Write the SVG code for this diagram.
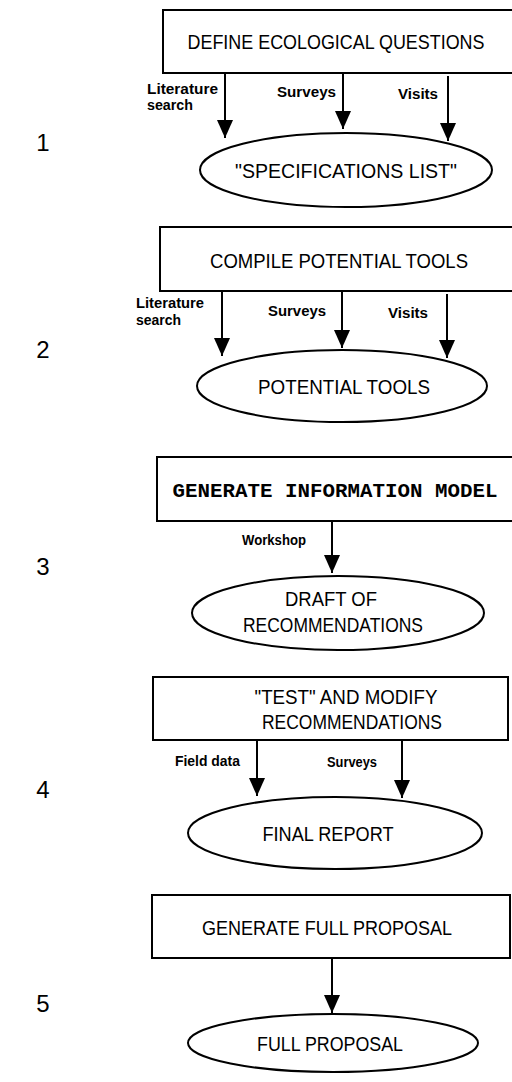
<svg xmlns="http://www.w3.org/2000/svg" width="512" height="1082" viewBox="0 0 512 1082">
<style>
.box{fill:#fff;stroke:#000;stroke-width:2}
.ell{fill:#fff;stroke:#000;stroke-width:2}
.t{font-family:"Liberation Sans",Arial,sans-serif;font-size:20px;fill:#000;text-anchor:middle}
.mono{font-family:"Liberation Mono","Courier New",monospace;font-size:20px;font-weight:bold;fill:#000;text-anchor:middle}
.lbl{font-family:"Liberation Sans",Arial,sans-serif;font-size:14px;font-weight:bold;fill:#000}
.num{font-family:"Liberation Sans",Arial,sans-serif;font-size:24px;fill:#000;text-anchor:middle}
.c{stroke:#000;stroke-width:2;fill:none;marker-end:url(#ah)}
</style>
<defs>
<marker id="ah" viewBox="0 0 18 16" refX="18" refY="8" markerWidth="18" markerHeight="16" markerUnits="userSpaceOnUse" orient="auto">
<path d="M0,0 L18,8 L0,16 z" fill="#000"/>
</marker>
</defs>
<rect width="512" height="1082" fill="#fff"/>

<g id="step-numbers">
<text class="num" x="43" y="151">1</text>
<text class="num" x="43" y="358">2</text>
<text class="num" x="43" y="575">3</text>
<text class="num" x="43" y="798">4</text>
<text class="num" x="43" y="1012">5</text>
</g>

<g id="connectors">
<line class="c" x1="225" y1="73" x2="225" y2="138"/>
<line class="c" x1="343" y1="74" x2="343" y2="129"/>
<line class="c" x1="448" y1="76" x2="448" y2="141"/>
<line class="c" x1="222" y1="290" x2="222" y2="356"/>
<line class="c" x1="342" y1="292" x2="342" y2="348"/>
<line class="c" x1="447" y1="294" x2="447" y2="358"/>
<line class="c" x1="332" y1="521" x2="332" y2="573"/>
<line class="c" x1="257" y1="738" x2="257" y2="796"/>
<line class="c" x1="402" y1="741" x2="402" y2="798"/>
<line class="c" x1="332" y1="958" x2="332" y2="1013"/>
</g>

<g id="connector-labels">
<text class="lbl" x="147" y="94" textLength="71" lengthAdjust="spacingAndGlyphs">Literature</text>
<text class="lbl" x="147" y="110" textLength="46" lengthAdjust="spacingAndGlyphs">search</text>
<text class="lbl" x="277" y="97" textLength="59" lengthAdjust="spacingAndGlyphs">Surveys</text>
<text class="lbl" x="398" y="99" textLength="40" lengthAdjust="spacingAndGlyphs">Visits</text>
<text class="lbl" x="136" y="308" textLength="68" lengthAdjust="spacingAndGlyphs">Literature</text>
<text class="lbl" x="136" y="325" textLength="45" lengthAdjust="spacingAndGlyphs">search</text>
<text class="lbl" x="268" y="316" textLength="58" lengthAdjust="spacingAndGlyphs">Surveys</text>
<text class="lbl" x="388" y="318" textLength="40" lengthAdjust="spacingAndGlyphs">Visits</text>
<text class="lbl" x="242" y="545" textLength="64" lengthAdjust="spacingAndGlyphs">Workshop</text>
<text class="lbl" x="175" y="766" textLength="65" lengthAdjust="spacingAndGlyphs">Field data</text>
<text class="lbl" x="327" y="767" textLength="50" lengthAdjust="spacingAndGlyphs">Surveys</text>
</g>

<g id="n1-define">
<path class="box" d="M512,10 H163 V73 H512"/>
<text class="t" x="336" y="49" textLength="297" lengthAdjust="spacingAndGlyphs">DEFINE ECOLOGICAL QUESTIONS</text>
</g>
<g id="n1-spec">
<ellipse class="ell" cx="346" cy="170" rx="146" ry="37"/>
<text class="t" x="346" y="178" textLength="222" lengthAdjust="spacingAndGlyphs">"SPECIFICATIONS LIST"</text>
</g>

<g id="n2-compile">
<path class="box" d="M512,227 H160 V291 H512"/>
<text class="t" x="339" y="268" textLength="258" lengthAdjust="spacingAndGlyphs">COMPILE POTENTIAL TOOLS</text>
</g>
<g id="n2-tools">
<ellipse class="ell" cx="342" cy="386" rx="145" ry="36"/>
<text class="t" x="344" y="394" textLength="172" lengthAdjust="spacingAndGlyphs">POTENTIAL TOOLS</text>
</g>

<g id="n3-generate">
<path class="box" d="M512,457 H157 V521 H512"/>
<text class="mono" x="335" y="497" textLength="325" lengthAdjust="spacingAndGlyphs">GENERATE INFORMATION MODEL</text>
</g>
<g id="n3-draft">
<ellipse class="ell" cx="338" cy="613" rx="146" ry="37"/>
<text class="t" x="331" y="606" textLength="92" lengthAdjust="spacingAndGlyphs">DRAFT OF</text>
<text class="t" x="333" y="632" textLength="180" lengthAdjust="spacingAndGlyphs">RECOMMENDATIONS</text>
</g>

<g id="n4-test">
<rect class="box" x="153" y="677" width="355" height="63"/>
<text class="t" x="346" y="704" textLength="183" lengthAdjust="spacingAndGlyphs">"TEST" AND MODIFY</text>
<text class="t" x="352" y="729" textLength="180" lengthAdjust="spacingAndGlyphs">RECOMMENDATIONS</text>
</g>
<g id="n4-final">
<ellipse class="ell" cx="335" cy="833" rx="147" ry="36"/>
<text class="t" x="328" y="841" textLength="131" lengthAdjust="spacingAndGlyphs">FINAL REPORT</text>
</g>

<g id="n5-generate">
<rect class="box" x="152" y="895" width="358" height="63"/>
<text class="t" x="327" y="935" textLength="250" lengthAdjust="spacingAndGlyphs">GENERATE FULL PROPOSAL</text>
</g>
<g id="n5-proposal">
<ellipse class="ell" cx="333" cy="1043" rx="145" ry="29"/>
<text class="t" x="330" y="1051" textLength="146" lengthAdjust="spacingAndGlyphs">FULL PROPOSAL</text>
</g>
</svg>
